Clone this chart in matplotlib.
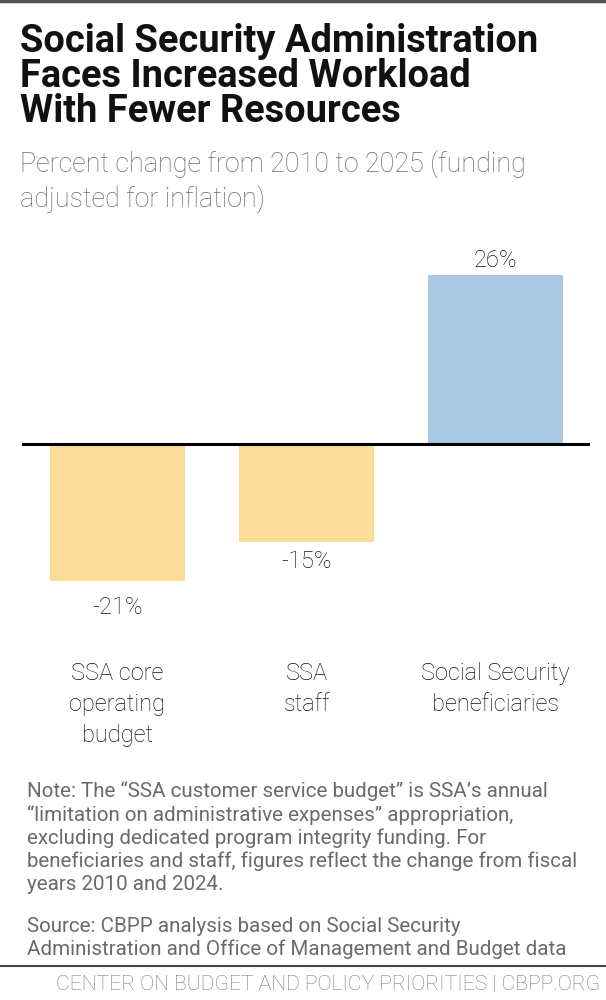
import matplotlib
matplotlib.use("Agg")
import matplotlib.pyplot as plt
from matplotlib.transforms import blended_transform_factory

# Data
categories = ["SSA core\noperating\nbudget", "SSA\nstaff", "Social Security\nbeneficiaries"]
values = [-21, -15, 26]
value_labels = ["-21%", "-15%", "26%"]
bar_colors = ["#FDDC98", "#FDDC98", "#AAC8E1"]

title = "Social Security Administration\nFaces Increased Workload\nWith Fewer Resources"
subtitle = "Percent change from 2010 to 2025 (funding\nadjusted for inflation)"
note = ("Note: The \u201cSSA customer service budget\u201d is SSA\u2019s annual\n"
        "\u201climitation on administrative expenses\u201d appropriation,\n"
        "excluding dedicated program integrity funding. For\n"
        "beneficiaries and staff, figures reflect the change from fiscal\n"
        "years 2010 and 2024.")
source = ("Source: CBPP analysis based on Social Security\n"
          "Administration and Office of Management and Budget data")
footer = "CENTER ON BUDGET AND POLICY PRIORITIES | CBPP.ORG"

plt.rcParams["font.family"] = ["Roboto", "DejaVu Sans"]

fig = plt.figure(figsize=(6.06, 10), dpi=100)
W, H = 606, 1000

def fy(py):
    return 1 - py / H

# top rule
fig.add_artist(plt.Line2D([0, 1], [fy(1), fy(1)], color="#555555", lw=2.5))

fig.text(20 / W, fy(23), title, fontsize=27.4, fontweight="bold", color="#111111",
         va="top", ha="left", linespacing=0.93)
fig.text(20 / W, fy(150), subtitle, fontsize=19.4, fontweight="light", color="#6a6a6a",
         va="top", ha="left", linespacing=1.28)

# chart axes
ax = fig.add_axes([22 / W, fy(620), (590 - 22) / W, (620 - 240) / H])
x = list(range(len(values)))
bars = ax.bar(x, values, width=0.714, color=bar_colors, zorder=1)
ax.axhline(0, color="black", lw=2.2, zorder=3)
ax.set_xlim(-0.505, 2.5)
ax.set_ylim(-(620 - 444) / 6.5, (444 - 240) / 6.5)
ax.axis("off")

label_offsets = [-11, -6, 2]
for xi, v, lab, off in zip(x, values, value_labels, label_offsets):
    ax.annotate(lab, (xi, v), xytext=(0, off), textcoords="offset points",
                ha="center", va="bottom" if v > 0 else "top",
                fontsize=17, fontweight="light", color="#111111")

trans = blended_transform_factory(ax.transData, fig.transFigure)
for xi, cat in zip(x, categories):
    ax.text(xi, fy(662), cat, transform=trans, ha="center", va="top",
            fontsize=17, fontweight="light", color="#111111", linespacing=1.44)

fig.text(27 / W, fy(781), note, fontsize=14.8, color="#6a6a6a", va="top", ha="left",
         linespacing=1.25)
fig.text(27 / W, fy(917), source, fontsize=14.8, color="#6a6a6a", va="top", ha="left",
         linespacing=1.25)

fig.add_artist(plt.Line2D([0, 1], [fy(966), fy(966)], color="#444444", lw=1.5))
fig.text(600 / W, fy(985), footer, fontsize=15.2, fontweight="light", color="#7a7a7a",
         va="center", ha="right")

fig.savefig("out.png", dpi=100)
